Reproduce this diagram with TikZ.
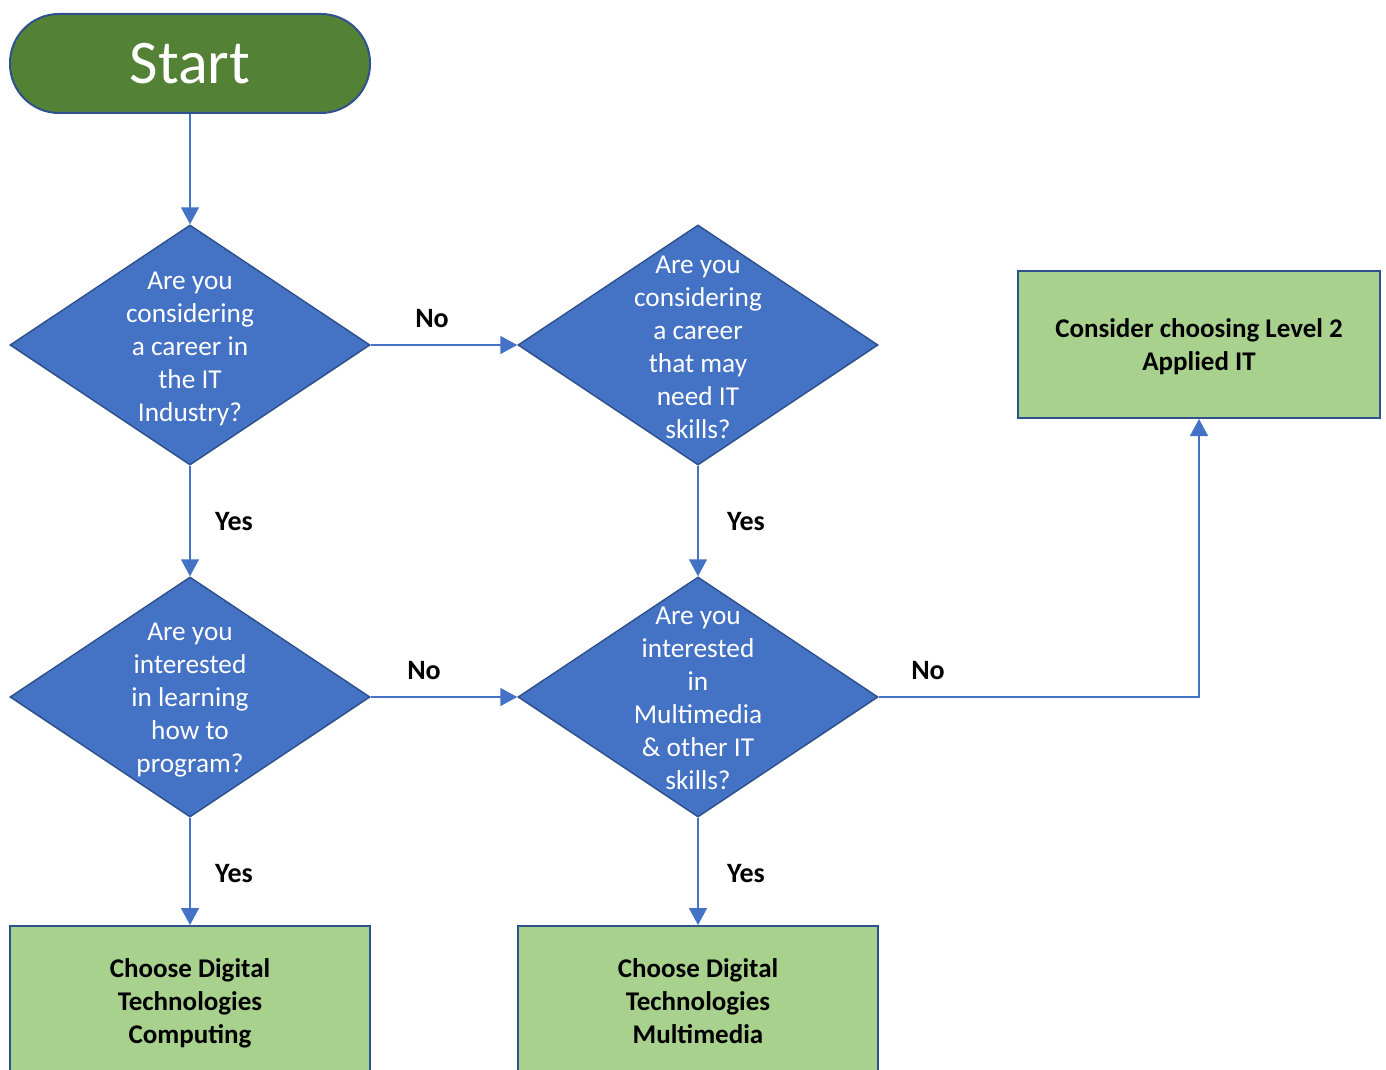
\documentclass[tikz,border=0pt]{standalone}
\usepackage{fontspec}
\setmainfont{Carlito}
\usetikzlibrary{shapes.geometric,arrows.meta}
\definecolor{dblue}{HTML}{4472C4}
\definecolor{eblue}{HTML}{2F528F}
\definecolor{lgreen}{HTML}{A9D18E}
\definecolor{dgreen}{HTML}{538135}
\tikzset{
  dec/.style={shape=diamond, draw=eblue, line width=1.5pt, fill=dblue, minimum width=360pt, minimum height=240pt, inner sep=0pt},
  dtext/.style={text=white, align=center, font=\fontsize{27.3}{33}\selectfont, inner sep=0pt},
  endbox/.style={draw=eblue, line width=2pt, fill=lgreen, inner sep=0pt, align=center, font=\bfseries\fontsize{27}{33}\selectfont},
  btext/.style={font=\bfseries\fontsize{27}{33}\selectfont, align=center, inner sep=0pt},
  conn/.style={draw=dblue, line width=1.5pt, -{Triangle[length=17pt,width=18pt]}},
  lab/.style={font=\bfseries\fontsize{28}{30}\selectfont, inner sep=0pt}
}
\begin{document}
\begin{tikzpicture}[x=1pt,y=-1pt]
\useasboundingbox (0,0) rectangle (1386,1070);
\clip (0,0) rectangle (1386,1070);
\node[draw=eblue, line width=2pt, fill=dgreen, rounded corners=49pt, minimum width=360pt, minimum height=99pt, inner sep=0pt, text=white, font=\fontsize{62}{64}\selectfont] (start) at (190,63.5) {Start};
\node[dec] (d1) at (190,345) {};
\node[dec] (d2) at (698,345) {};
\node[dec] (d3) at (190,697) {};
\node[dec] (d4) at (698,697) {};
\node[dtext] (t1) at (190,349) {Are you\\considering\\a career in\\the IT\\Industry?};
\node[dtext] (t2) at (698,347) {Are you\\considering\\a career\\that may\\need IT\\skills?};
\node[dtext] (t3) at (190,700) {Are you\\interested\\in learning\\how to\\program?};
\node[dtext] (t4) at (698,698.5) {Are you\\interested\\in\\Multimedia\\\& other IT\\skills?};
\node[endbox, minimum width=362pt, minimum height=147pt] (appl) at (1199,344.5) {};
\node[btext] (applt) at (1199,347) {Consider choosing Level 2\\Applied IT};
\node[endbox, minimum width=360pt, minimum height=200pt] (comp) at (190,1026) {};
\node[endbox, minimum width=360pt, minimum height=200pt] (mult) at (698,1026) {};
\node[btext] (compt) at (190,1003) {Choose Digital\\Technologies\\Computing};
\node[btext] (multt) at (698,1001.5) {Choose Digital\\Technologies\\Multimedia};
\coordinate (bend) at (1199,697);
\draw[conn] (start.south) -- (d1.north);
\draw[conn] (d1.east) -- (d2.west);
\draw[conn] (d1.south) -- (d3.north);
\draw[conn] (d2.south) -- (d4.north);
\draw[conn] (d3.east) -- (d4.west);
\draw[conn] (d3.south) -- (comp.north);
\draw[conn] (d4.south) -- (mult.north);
\draw[conn] (d4.east) -- (bend) -- (appl.south);
\node[lab] (l1) at (432,319) {No};
\node[lab] (l2) at (424,671) {No};
\node[lab] (l3) at (928,671) {No};
\node[lab] (l4) at (234,522) {Yes};
\node[lab] (l5) at (746,522) {Yes};
\node[lab] (l6) at (234,874) {Yes};
\node[lab] (l7) at (746,874) {Yes};
\end{tikzpicture}
\end{document}
